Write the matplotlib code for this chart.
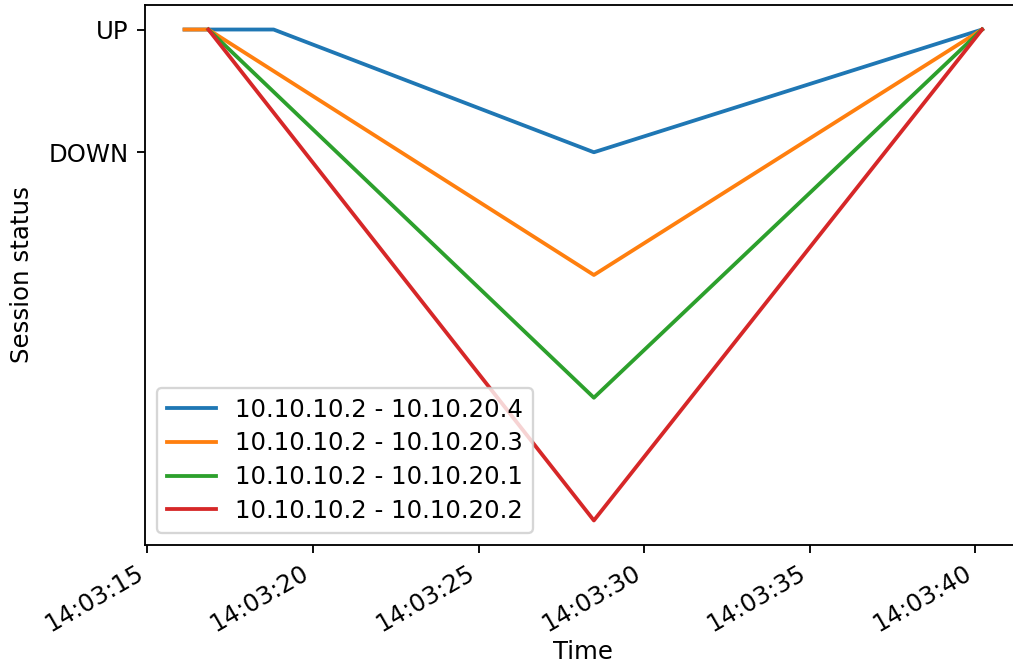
import matplotlib
matplotlib.use("Agg")
import matplotlib.pyplot as plt
import matplotlib.dates as mdates
import pandas as pd

# Session state per peer pair: 1 = UP, 0 = DOWN; lower levels are DOWN
# samples offset per peer so the traces don't overlap.
peers = ["10.10.10.2 - 10.10.20.4", "10.10.10.2 - 10.10.20.3",
         "10.10.10.2 - 10.10.20.1", "10.10.10.2 - 10.10.20.2"]

times_20_4 = ["14:03:16.12", "14:03:18.81", "14:03:28.48", "14:03:40.20"]
state_20_4 = [1, 1, 0, 1]

times_20_3 = ["14:03:16.12", "14:03:16.84", "14:03:28.48", "14:03:40.20"]
state_20_3 = [1, 1, -1, 1]

times_20_1 = ["14:03:16.84", "14:03:28.48", "14:03:40.20"]
state_20_1 = [1, -2, 1]

times_20_2 = ["14:03:16.84", "14:03:28.48", "14:03:40.20"]
state_20_2 = [1, -3, 1]

status_ticks = [1, 0]
status_labels = ["UP", "DOWN"]

series = [(times_20_4, state_20_4), (times_20_3, state_20_3),
          (times_20_1, state_20_1), (times_20_2, state_20_2)]

plt.rcParams["font.size"] = 10.6

dpi = 166
fig = plt.figure(figsize=(1013 / dpi, 664 / dpi), dpi=dpi)
ax = fig.add_axes([0.1428, 0.1792, 0.866, 0.8133])

for name, (t, s) in zip(peers, series):
    ts = pd.to_datetime(["2023-01-01 " + x for x in t])
    ax.plot(ts, s, label=name, linewidth=1.65)

ax.set_yticks(status_ticks)
ax.set_yticklabels(status_labels)
ax.xaxis.set_major_formatter(mdates.DateFormatter("%H:%M:%S"))
ax.xaxis.set_major_locator(mdates.SecondLocator(bysecond=range(0, 60, 5)))
for lbl in ax.get_xticklabels():
    lbl.set_rotation(30)
    lbl.set_ha("right")
ax.spines["right"].set_visible(False)

ax.set_xlabel("Time", labelpad=1.5)
ax.set_ylabel("Session status", labelpad=6)
ax.legend(loc="lower left", labelspacing=0.4)

fig.savefig("out.png", dpi=dpi)
